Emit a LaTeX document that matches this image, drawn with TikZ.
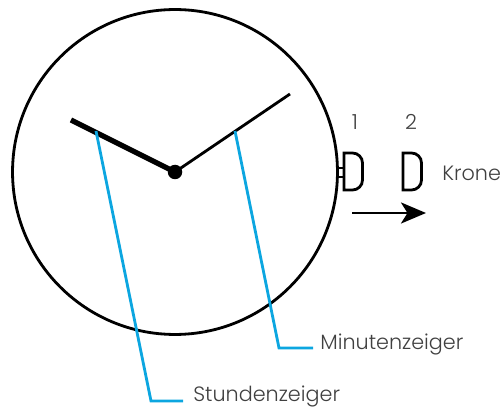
\documentclass[tikz,border=0pt]{standalone}
\usepackage{fontspec}
\setmainfont{Poppins Light}
\usetikzlibrary{positioning,arrows.meta}
\definecolor{zeigerblue}{HTML}{0CA6E0}
\definecolor{labelgray}{HTML}{404040}
\tikzset{
  lbl/.style={text=labelgray,font=\fontsize{11.8}{13}\selectfont,inner sep=0pt},
  crown/.style={draw,line width=1.6pt},
  leader/.style={draw=zeigerblue,line width=1.6pt}
}
\begin{document}
\begin{tikzpicture}[x=0.02cm,y=-0.02cm,>={Stealth[length=5mm,width=4.2mm,inset=1.3mm]}]
\useasboundingbox (0,0) rectangle (503,408);
\node (dial) [circle,draw,line width=1.6pt,minimum size=6.5cm,inner sep=0pt] at (175,172) {};
\node (hub) [circle,fill,minimum size=0.29cm,inner sep=0pt] at (175,172) {};
\coordinate (hourtip) at (71,120);
\coordinate (minutetip) at (290,94);
\draw[line width=3pt] (hub.center) -- (hourtip);
\draw[line width=1.6pt] (hub.center) -- (minutetip);
% crown, both positions
\foreach \x/\n/\lx in {344/1/355,403/2/411}{
  \draw[crown] (\x,190) -- (\x,153) [rounded corners=2mm] -- (\x+18.5,153) -- (\x+18.5,190) [sharp corners] -- cycle;
  \node (pos\n) [lbl] at (\lx,122) {\n};
}
\draw[line width=1.1pt] (336,168) -- (343,168) (336,177) -- (343,177);
\coordinate (pullstart) at (352,213);
\coordinate (pullend) at (426,213);
\draw[->,line width=1.7pt] (pullstart) -- (pullend);
\node (krone) [lbl,anchor=west] at (442,173) {Krone};
% labels
\node (minute) [lbl,anchor=west] at (320,344) {Minutenzeiger};
\node (hour) [lbl,anchor=west] at (193,396) {Stundenzeiger};
\coordinate (minutefoot) at (235,131);
\coordinate (hourfoot) at (96,131);
\draw[leader] (minutefoot) -- (279,348) -- (313,348);
\draw[leader] (hourfoot) -- (151,401) -- (183,401);
\end{tikzpicture}
\end{document}
